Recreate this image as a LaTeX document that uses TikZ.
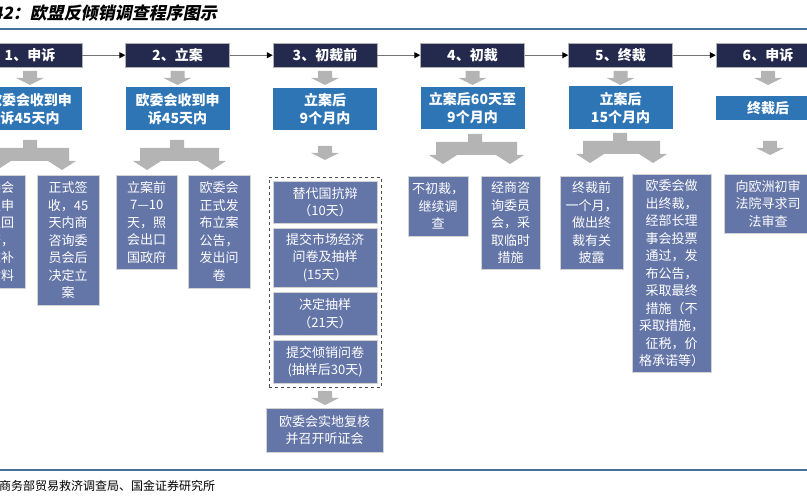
\documentclass[tikz,border=0pt]{standalone}
\usepackage{fontspec}
\setmainfont{Noto Sans CJK SC}
\newfontfamily\titlefont[FakeSlant=0.2]{Noto Sans CJK SC}
\usetikzlibrary{positioning,arrows.meta,fit}

\definecolor{navyc}{RGB}{36,42,78}
\definecolor{periodc}{RGB}{46,117,182}
\definecolor{stepc}{RGB}{100,117,168}
\definecolor{arrowc}{RGB}{180,180,180}
\definecolor{rulec}{RGB}{68,114,156}

% gray block arrow pointing down: centre x, top y
\newcommand*{\downarr}[2]{%
  \fill[arrowc] (#1-7,#2) -- (#1+7,#2) -- (#1+7,#2+7) -- (#1+14,#2+7)
    -- (#1,#2+14) -- (#1-14,#2+7) -- (#1-7,#2+7) -- cycle;}
% gray forked block arrow: stub x, top y, left head x, right head x
\newcommand*{\forkarr}[4]{%
  \fill[arrowc] (#1-7,#2) -- (#1+7,#2) -- (#1+7,#2+8) -- (#4+7,#2+8)
    -- (#4+7,#2+21) -- (#4+14,#2+21) -- (#4,#2+30) -- (#4-14,#2+21)
    -- (#3+14,#2+21) -- (#3,#2+30) -- (#3-14,#2+21) -- (#3-7,#2+21)
    -- (#3-7,#2+8) -- (#1-7,#2+8) -- cycle;}

\begin{document}
\begin{tikzpicture}[x=1pt,y=-1pt,%
  % common options for the dark stage headers:
  head/.style = {draw=gray!60, fill=navyc, text=white, anchor=north,
              minimum width=104, minimum height=24, inner sep=0,
              font=\bfseries\fontsize{14}{16}\selectfont},
  % common options for the time limits:
  period/.style = {fill=periodc, text=white, anchor=north, align=center,
              minimum width=104, inner sep=0,
              font=\bfseries\fontsize{14}{18}\selectfont},
  % common options for the step boxes:
  stepbox/.style = {draw=gray!35, fill=stepc, text=white, align=center,
              anchor=north west, inner sep=0,
              font=\fontsize{13}{17.5}\selectfont},
  link/.style = {draw=black!55, line width=1.2pt,
              -{Triangle[length=6pt,width=6pt,color=black]}}]

\useasboundingbox (0,0) rectangle (807,497);

% title and rules
\node[anchor=west,inner sep=0,font=\titlefont\bfseries\fontsize{17}{19}\selectfont]
  (title) at (-42,13) {图表42：欧盟反倾销调查程序图示};
\draw[rulec,line width=1.3pt] (0,29) -- (807,29);
\draw[rulec,line width=1.3pt] (0,470) -- (807,470);
\node[anchor=west,inner sep=0,font=\fontsize{12}{14}\selectfont]
  (source) at (-37,486) {来源：商务部贸易救济调查局、国金证券研究所};

% the six stages
\node[head] (h1) at (30,43) {1、申诉};
\node[head] (h2) at (177.5,43) {2、立案};
\node[head] (h3) at (325,43) {3、初裁前};
\node[head] (h4) at (472.5,43) {4、初裁};
\node[head] (h5) at (620.5,43) {5、终裁};
\node[head] (h6) at (768,43) {6、申诉};

% arrows from stage to stage
\draw[link] (h1) -- (h2);
\draw[link] (h2) -- (h3);
\draw[link] (h3) -- (h4);
\draw[link] (h4) -- (h5);
\draw[link] (h5) -- (h6);

% gray arrows below the stages
\downarr{30}{71} \downarr{177.5}{71} \downarr{325}{71}
\downarr{472.5}{71} \downarr{620.5}{71} \downarr{768}{71}

% time limits
\node[period,minimum height=43] (p1) at (30,87) {欧委会收到申\\诉45天内};
\node[period,minimum height=43] (p2) at (177.5,87) {欧委会收到申\\诉45天内};
\node[period,minimum height=42] (p3) at (325,88) {立案后\\9个月内};
\node[period,minimum height=42] (p4) at (472.5,87) {立案后60天至\\9个月内};
\node[period,minimum height=43] (p5) at (620.5,86) {立案后\\15个月内};
\node[period,minimum height=24] (p6) at (768,96) {终裁后};

% splitting arrows below the time limits
\forkarr{30}{140}{-3}{62}
\forkarr{177}{140}{147}{212}
\downarr{325}{146}
\forkarr{475}{134}{443}{510}
\forkarr{620}{133}{590}{653}
\downarr{770}{141}

% steps of stage 1 and 2
\node[stepbox,text width=61,minimum height=113] (c1a) at (-36,175)
  {欧委会\\决定申\\诉驳回\\与否，\\要求补\\充材料};
\node[stepbox,text width=62,minimum height=130] (c1b) at (37,175)
  {正式签\\收，45\\天内商\\咨询委\\员会后\\决定立\\案};
\node[stepbox,text width=61,minimum height=94] (c2a) at (116,175)
  {立案前\\7—10\\天，照\\会出口\\国政府};
\node[stepbox,text width=62,minimum height=113] (c2b) at (188,175)
  {欧委会\\正式发\\布立案\\公告，\\发出问\\卷};

% steps of stage 3 inside the dashed frame
\node[stepbox,text width=104,minimum height=42] (s1) at (273,181)
  {替代国抗辩\\（10天）};
\node[stepbox,text width=104,minimum height=59] (s2) at (273,228)
  {提交市场经济\\问卷及抽样\\(15天）};
\node[stepbox,text width=104,minimum height=43] (s3) at (273,292)
  {决定抽样\\（21天）};
\node[stepbox,text width=104,minimum height=43] (s4) at (273,340)
  {提交倾销问卷\\(抽样后30天)};
\node[draw=black!70,dashed,line width=0.8pt,inner sep=4,fit=(s1)(s4)] (frame) {};
\downarr{325}{391}
\node[stepbox,text width=117,minimum height=44] (hear) at (266,408)
  {欧委会实地复核\\并召开听证会};

% steps of stage 4, 5 and 6
\node[stepbox,text width=60,minimum height=60] (c4a) at (408,176)
  {不初裁，\\继续调\\查};
\node[stepbox,text width=59,minimum height=93] (c4b) at (481,176)
  {经商咨\\询委员\\会，采\\取临时\\措施};
\node[stepbox,text width=63,minimum height=93] (c5a) at (560,176)
  {终裁前\\一个月，\\做出终\\裁有关\\披露};
\node[stepbox,text width=79,minimum height=198] (c5b) at (632,174)
  {欧委会做\\出终裁，\\经部长理\\事会投票\\通过，发\\布公告，\\采取最终\\措施（不\\采取措施，\\征税，价\\格承诺等）};
\node[stepbox,text width=88,minimum height=59] (c6) at (724,174)
  {向欧洲初审\\法院寻求司\\法审查};
\end{tikzpicture}
\end{document}
